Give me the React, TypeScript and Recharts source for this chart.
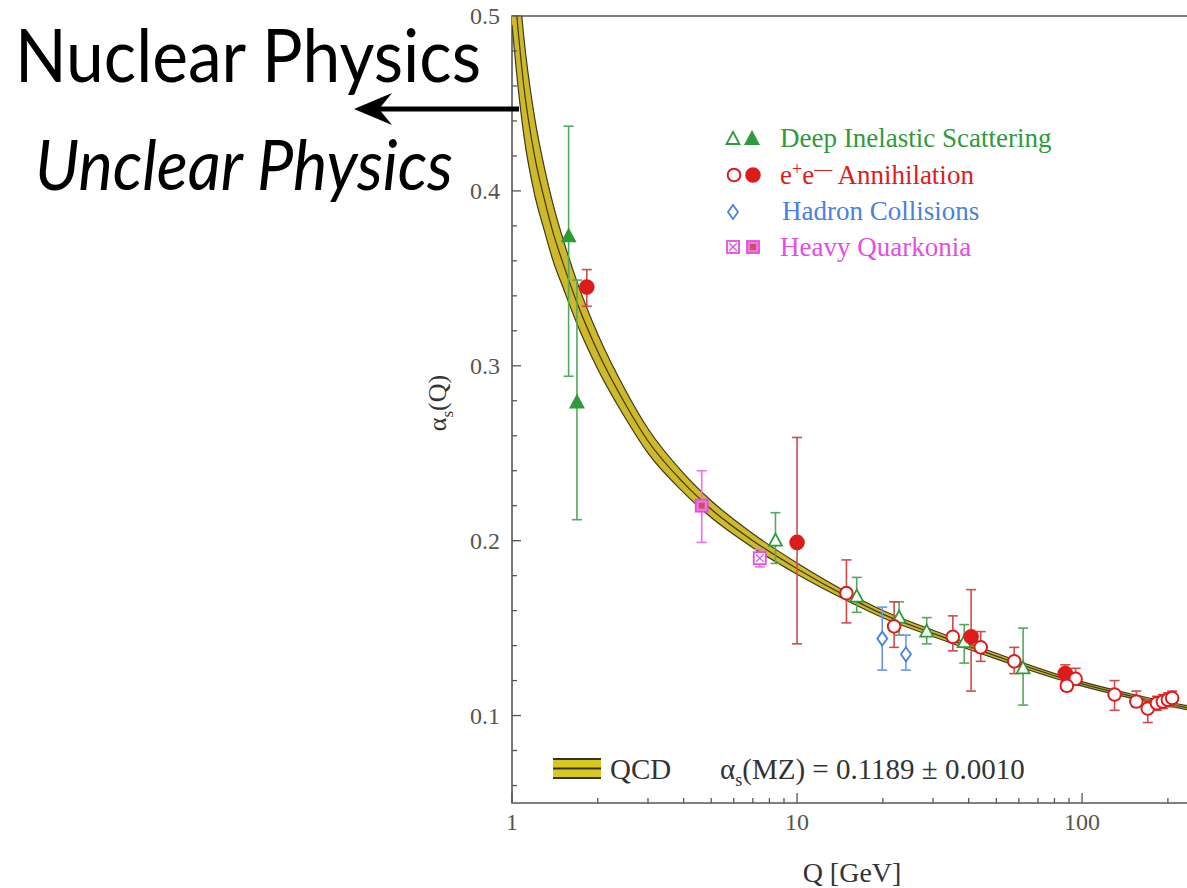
import React from "react";
import { Area, ComposedChart, ErrorBar, Line, ReferenceArea, Scatter, XAxis, YAxis } from "recharts";

// QCD running coupling band
const curveQ = [1.0, 1.04, 1.1, 1.2, 1.3, 1.4, 1.5, 1.7, 2, 2.5, 3, 4, 5, 7, 10, 15, 20, 30, 50, 91, 150, 243];
const curveMid = [0.535, 0.5, 0.46, 0.42, 0.395, 0.375, 0.36, 0.335, 0.308, 0.278, 0.257, 0.233, 0.218, 0.2, 0.184, 0.168, 0.158, 0.147, 0.134, 0.12, 0.111, 0.104];
const curveHalf = [0.04, 0.034, 0.028, 0.022, 0.018, 0.016, 0.014, 0.012, 0.01, 0.008, 0.007, 0.0055, 0.0048, 0.004, 0.0032, 0.0024, 0.0021, 0.0018, 0.0016, 0.0013, 0.0012, 0.0011];

const disPoints = [
  { q: 1.58, a: 0.374, lo: 0.294, hi: 0.437, filled: true },
  { q: 1.69, a: 0.279, lo: 0.212, hi: 0.349, filled: true },
  { q: 8.4, a: 0.2, lo: 0.187, hi: 0.216, filled: false },
  { q: 16.2, a: 0.168, lo: 0.159, hi: 0.179, filled: false },
  { q: 22.8, a: 0.156, lo: 0.146, hi: 0.165, filled: false },
  { q: 28.5, a: 0.148, lo: 0.141, hi: 0.156, filled: false },
  { q: 38.6, a: 0.142, lo: 0.13, hi: 0.152, filled: false },
  { q: 62.1, a: 0.127, lo: 0.106, hi: 0.15, filled: false },
];

const eePoints = [
  { q: 1.83, a: 0.345, lo: 0.334, hi: 0.355, filled: true },
  { q: 10, a: 0.199, lo: 0.141, hi: 0.259, filled: true },
  { q: 14.9, a: 0.17, lo: 0.153, hi: 0.189, filled: false },
  { q: 21.9, a: 0.151, lo: 0.139, hi: 0.165, filled: false },
  { q: 35.2, a: 0.145, lo: 0.137, hi: 0.157, filled: false },
  { q: 40.8, a: 0.145, lo: 0.114, hi: 0.172, filled: true },
  { q: 44.1, a: 0.139, lo: 0.131, hi: 0.148, filled: false },
  { q: 57.8, a: 0.131, lo: 0.124, hi: 0.139, filled: false },
  { q: 87.3, a: 0.124, lo: 0.119, hi: 0.129, filled: true },
  { q: 94.9, a: 0.121, lo: 0.118, hi: 0.127, filled: false },
  { q: 88.4, a: 0.117, lo: 0.114, hi: 0.121, filled: false },
  { q: 130, a: 0.112, lo: 0.103, hi: 0.12, filled: false },
  { q: 155, a: 0.108, lo: 0.105, hi: 0.114, filled: false },
  { q: 170, a: 0.104, lo: 0.096, hi: 0.109, filled: false },
  { q: 183, a: 0.107, lo: 0.103, hi: 0.111, filled: false },
  { q: 192, a: 0.108, lo: 0.104, hi: 0.112, filled: false },
  { q: 200, a: 0.109, lo: 0.105, hi: 0.113, filled: false },
  { q: 207, a: 0.11, lo: 0.106, hi: 0.114, filled: false },
];

const hadronPoints = [
  { q: 19.9, a: 0.144, lo: 0.126, hi: 0.162, filled: false },
  { q: 24.1, a: 0.135, lo: 0.126, hi: 0.146, filled: false },
];

const quarkoniaPoints = [
  { q: 4.63, a: 0.22, lo: 0.199, hi: 0.24, filled: true },
  { q: 7.4, a: 0.19, lo: 0.185, hi: 0.195, filled: false },
];

const xTicks = [1, 2, 3, 4, 5, 6, 7, 8, 9, 10, 20, 30, 40, 50, 60, 70, 80, 90, 100, 200];
const xLabels = [1, 10, 100];
const yTicks = [0.06, 0.08, 0.1, 0.12, 0.14, 0.16, 0.18, 0.2, 0.22, 0.24, 0.26, 0.28, 0.3, 0.32, 0.34, 0.36, 0.38, 0.4, 0.42, 0.44, 0.46, 0.48, 0.5];
const yLabels = [0.1, 0.2, 0.3, 0.4, 0.5];

const GREEN = "#2f9a3a";
const RED = "#dd1c1c";
const BLUE = "#4a80e0";
const PINK = "#e44de4";
const AXIS = "#555";
const SERIF = "'Liberation Serif', 'Times New Roman', serif";

const bandData = curveQ.map((q, i) => ({
  q,
  band: [curveMid[i] - curveHalf[i], curveMid[i] + curveHalf[i]],
  mid: curveMid[i],
}));

const withErr = (pts: typeof disPoints) => pts.map((p) => ({ ...p, err: [p.a - p.lo, p.hi - p.a] }));

const isMajorY = (v: number) => yLabels.some((l) => Math.abs(l - v) < 1e-9);

const LeftTick = (props: any) => {
  const { x, y, payload } = props;
  const ax = x + 12;
  const major = isMajorY(payload.value);
  return (
    <g>
      <line x1={ax} x2={ax + (major ? 9 : 5)} y1={y} y2={y} stroke={AXIS} strokeWidth={1.3} />
      {major && (
        <text x={x} y={y + 8} textAnchor="end" fontFamily={SERIF} fontSize={24} fill="#555">
          {payload.value.toFixed(1)}
        </text>
      )}
    </g>
  );
};

const RightTick = (props: any) => {
  const { x, y, payload } = props;
  const major = isMajorY(payload.value);
  return <line x1={x} x2={x - (major ? 9 : 5)} y1={y} y2={y} stroke={AXIS} strokeWidth={1.3} />;
};

const BottomTick = (props: any) => {
  const { x, y, payload } = props;
  const ay = y - 14;
  const major = xLabels.includes(payload.value);
  return (
    <g>
      <line x1={x} x2={x} y1={ay} y2={ay - (major ? 10 : 5)} stroke={AXIS} strokeWidth={1.3} />
      {major && (
        <text x={x} y={y + 13} textAnchor="middle" fontFamily={SERIF} fontSize={24} fill="#555">
          {payload.value}
        </text>
      )}
    </g>
  );
};

const Triangle = ({ cx, cy, color, filled }: any) => (
  <polygon
    points={`${cx},${cy - 7} ${cx - 6.5},${cy + 5} ${cx + 6.5},${cy + 5}`}
    fill={filled ? color : "#fff"}
    stroke={color}
    strokeWidth={1.8}
  />
);

const Circle = ({ cx, cy, color, filled }: any) => (
  <circle cx={cx} cy={cy} r={filled ? 6.8 : 6.3} fill={filled ? color : "#fff"} stroke={color} strokeWidth={2} />
);

const Diamond = ({ cx, cy, color }: any) => (
  <polygon points={`${cx},${cy - 7} ${cx + 5},${cy} ${cx},${cy + 7} ${cx - 5},${cy}`} fill="#fff" stroke={color} strokeWidth={1.8} />
);

const Square = ({ cx, cy, color, filled }: any) => (
  <g>
    <rect x={cx - 6} y={cy - 6} width={12} height={12} fill={filled ? "#f07ad8" : "#fff"} stroke={color} strokeWidth={1.8} />
    {filled ? (
      <rect x={cx - 3} y={cy - 3} width={6} height={6} fill="#c8506a" />
    ) : (
      <path d={`M${cx - 4},${cy - 4} L${cx + 4},${cy + 4} M${cx + 4},${cy - 4} L${cx - 4},${cy + 4}`} stroke={color} strokeWidth={1.3} />
    )}
  </g>
);

const Overlay = () => (
  <svg width={1187} height={888} style={{ position: "absolute", left: 0, top: 0, pointerEvents: "none" }}>
    <text x={15} y={82} fontFamily="Lato, 'Open Sans', sans-serif" fontSize={74} fill="#000" textLength={466} lengthAdjust="spacingAndGlyphs">
      Nuclear Physics
    </text>
    <text x={35} y={190} fontFamily="Lato, 'Open Sans', sans-serif" fontStyle="italic" fontSize={70} fill="#000" textLength={418} lengthAdjust="spacingAndGlyphs">
      Unclear Physics
    </text>
    <line x1={378} x2={519} y1={109} y2={109} stroke="#000" strokeWidth={5} />
    <polygon points="354,109 392,93 379,109 392,125" fill="#000" />

    <g fontFamily={SERIF} fontSize={27}>
      <Triangle cx={733} cy={139} color={GREEN} filled={false} />
      <Triangle cx={752} cy={139} color={GREEN} filled />
      <text x={780} y={147} fill={GREEN}>Deep Inelastic Scattering</text>

      <Circle cx={734} cy={175} color={RED} filled={false} />
      <Circle cx={753} cy={175} color={RED} filled />
      <text x={780} y={184} fill={RED}>
        e<tspan dy={-9} fontSize={18}>+</tspan>
        <tspan dy={9}>e</tspan>
        <tspan dy={-9} fontSize={18}>—</tspan>
        <tspan dy={9}>{"  Annihilation"}</tspan>
      </text>

      <Diamond cx={733} cy={212} color={BLUE} />
      <text x={782} y={220} fill={BLUE}>Hadron Collisions</text>

      <Square cx={733} cy={247} color={PINK} filled={false} />
      <Square cx={753} cy={247} color={PINK} filled />
      <text x={780} y={256} fill={PINK}>Heavy Quarkonia</text>

      <rect x={553} y={758} width={48} height={21} fill="#d8c820" />
      <line x1={553} x2={601} y1={759} y2={759} stroke="#333" strokeWidth={2} />
      <line x1={553} x2={601} y1={768.5} y2={768.5} stroke="#333" strokeWidth={2} />
      <line x1={553} x2={601} y1={778} y2={778} stroke="#333" strokeWidth={2} />
      <text x={610} y={779} fill="#333" fontSize={29}>QCD</text>
      <text x={720} y={779} fill="#333" fontSize={29}>
        α<tspan dy={7} fontSize={18}>s</tspan>
        <tspan dy={-7}>(MZ) = 0.1189 ± 0.0010</tspan>
      </text>

      <text x={852} y={882} textAnchor="middle" fill="#333" fontSize={28}>Q [GeV]</text>
      <text transform="translate(446,403) rotate(-90)" textAnchor="middle" fill="#333" fontSize={26}>
        α<tspan dy={7} fontSize={17}>s</tspan>
        <tspan dy={-7}>(Q)</tspan>
      </text>
    </g>
  </svg>
);

export default function App() {
  return (
    <div style={{ position: "absolute", left: 0, top: 0, width: 1187, height: 888, overflow: "hidden", background: "#fff" }}>
      <ComposedChart width={1220} height={888} data={bandData} margin={{ top: 16, right: 0, bottom: 0, left: 0 }}>
        <XAxis
          dataKey="q"
          type="number"
          scale="log"
          domain={[1, 243]}
          allowDataOverflow
          ticks={xTicks}
          interval={0}
          height={85}
          axisLine={false}
          tickLine={false}
          tickSize={0}
          tickMargin={14}
          tick={<BottomTick />}
        />
        <YAxis
          type="number"
          domain={[0.05, 0.5]}
          allowDataOverflow
          ticks={yTicks}
          interval={0}
          width={512}
          axisLine={false}
          tickLine={false}
          tickSize={0}
          tickMargin={12}
          tick={<LeftTick />}
        />
        <YAxis
          yAxisId="r"
          orientation="right"
          type="number"
          domain={[0.05, 0.5]}
          ticks={yTicks}
          interval={0}
          width={28}
          axisLine={false}
          tickLine={false}
          tickSize={0}
          tickMargin={0}
          tick={<RightTick />}
        />
        <ReferenceArea x1={1} x2={243} y1={0.05} y2={0.5} fill="none" stroke={AXIS} strokeWidth={1.6} strokeOpacity={1} fillOpacity={0} />
        <Area dataKey="band" type="monotone" fill="#cdb92a" fillOpacity={1} stroke="#3d3820" strokeWidth={1.2} isAnimationActive={false} />
        <Line dataKey="mid" type="monotone" stroke="#3d3820" strokeWidth={1.2} dot={false} isAnimationActive={false} />

        <Scatter data={withErr(disPoints)} dataKey="a" isAnimationActive={false} shape={(p: any) => <Triangle cx={p.cx} cy={p.cy} color={GREEN} filled={p.payload.filled} />}>
          <ErrorBar dataKey="err" direction="y" width={5} stroke="#56a85c" strokeWidth={1.6} />
        </Scatter>
        <Scatter data={withErr(hadronPoints)} dataKey="a" isAnimationActive={false} shape={(p: any) => <Diamond cx={p.cx} cy={p.cy} color={BLUE} />}>
          <ErrorBar dataKey="err" direction="y" width={5} stroke="#6a96ea" strokeWidth={1.6} />
        </Scatter>
        <Scatter data={withErr(quarkoniaPoints)} dataKey="a" isAnimationActive={false} shape={(p: any) => <Square cx={p.cx} cy={p.cy} color={PINK} filled={p.payload.filled} />}>
          <ErrorBar dataKey="err" direction="y" width={5} stroke="#ee6cee" strokeWidth={1.6} />
        </Scatter>
        <Scatter data={withErr(eePoints)} dataKey="a" isAnimationActive={false} shape={(p: any) => <Circle cx={p.cx} cy={p.cy} color={RED} filled={p.payload.filled} />}>
          <ErrorBar dataKey="err" direction="y" width={5} stroke="#d04a4a" strokeWidth={1.6} />
        </Scatter>
      </ComposedChart>
      <Overlay />
    </div>
  );
}
